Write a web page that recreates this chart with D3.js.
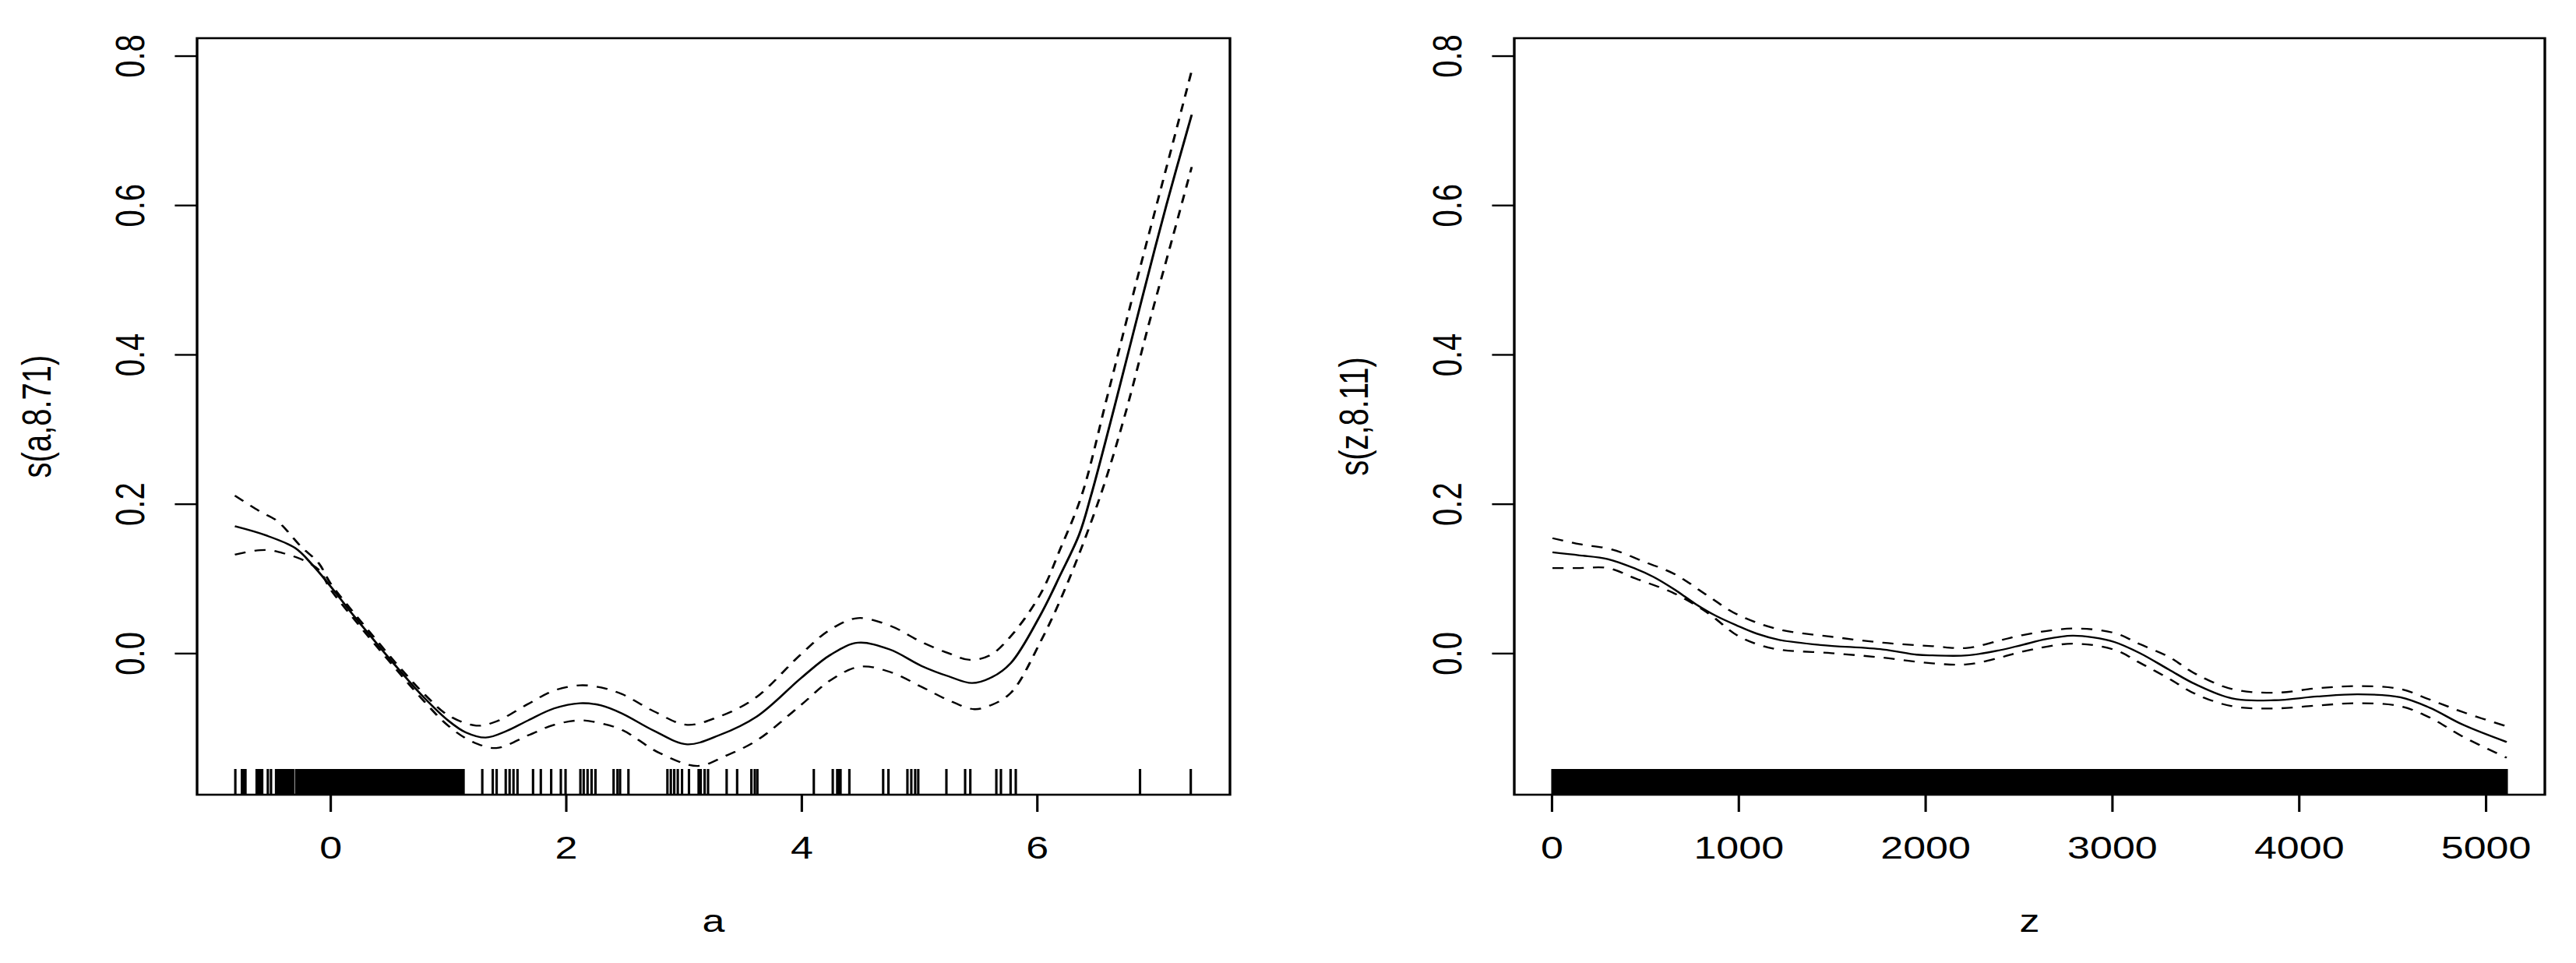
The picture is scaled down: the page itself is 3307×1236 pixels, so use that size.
<!DOCTYPE html>
<html>
<head>
<meta charset="utf-8">
<script src="https://cdn.jsdelivr.net/npm/d3@7"></script>
<style>
  body { margin: 0; background: #fff; }
  text { font-family: "Liberation Sans", Arial, sans-serif; fill: #000; }
</style>
</head>
<body>
<div id="canvas"></div>
<script>
// values
let yLim = [-0.152, 0.786];
let yTicks = [0, 0.2, 0.4, 0.6, 0.8];

// ---- left panel: s(a, 8.71)
let aExtent = [-0.806, 7.315];
let aTicks = [0, 2, 4, 6];
let aFit = [
  [-0.81, 0.170], [-0.55, 0.158], [-0.30, 0.141], [-0.15, 0.118], [0.00, 0.090],
  [0.20, 0.050], [0.40, 0.012], [0.60, -0.025], [0.80, -0.060], [1.00, -0.090],
  [1.15, -0.106], [1.32, -0.113], [1.50, -0.104], [1.68, -0.090], [1.90, -0.074],
  [2.12, -0.067], [2.30, -0.070], [2.48, -0.081], [2.75, -0.104], [3.03, -0.122],
  [3.30, -0.110], [3.62, -0.085], [4.00, -0.033], [4.25, -0.002], [4.48, 0.014],
  [4.75, 0.005], [5.02, -0.017], [5.25, -0.031], [5.45, -0.040], [5.62, -0.032],
  [5.78, -0.013], [6.03, 0.051], [6.20, 0.105], [6.36, 0.159], [6.46, 0.211],
  [6.70, 0.355], [6.89, 0.473], [7.10, 0.600], [7.315, 0.721]
];
let aUpper = [
  [-0.81, 0.211], [-0.60, 0.190], [-0.45, 0.177], [-0.25, 0.143], [-0.10, 0.121],
  [0.00, 0.094], [0.20, 0.054], [0.40, 0.016], [0.60, -0.021], [0.80, -0.055],
  [1.00, -0.083], [1.24, -0.097], [1.40, -0.092], [1.68, -0.068], [1.90, -0.050],
  [2.12, -0.043], [2.30, -0.046], [2.48, -0.055], [2.75, -0.078], [3.03, -0.096],
  [3.30, -0.085], [3.60, -0.061], [4.00, -0.001], [4.25, 0.032], [4.48, 0.047],
  [4.75, 0.037], [5.02, 0.015], [5.25, 0.000], [5.43, -0.009], [5.60, -0.003],
  [5.78, 0.023], [6.03, 0.079], [6.20, 0.140], [6.38, 0.211], [6.60, 0.345],
  [6.85, 0.500], [7.10, 0.650], [7.315, 0.780]
];
let aLower = [
  [-0.81, 0.132], [-0.65, 0.137], [-0.52, 0.138], [-0.38, 0.133], [-0.25, 0.126],
  [-0.10, 0.112], [0.00, 0.086], [0.20, 0.046], [0.40, 0.008], [0.60, -0.029],
  [0.80, -0.065], [1.00, -0.097], [1.20, -0.118], [1.41, -0.127], [1.68, -0.110],
  [1.90, -0.096], [2.12, -0.090], [2.30, -0.094], [2.48, -0.103], [2.80, -0.134],
  [3.12, -0.151], [3.35, -0.138], [3.62, -0.117], [4.00, -0.069], [4.25, -0.036],
  [4.50, -0.018], [4.75, -0.025], [5.02, -0.045], [5.25, -0.063], [5.47, -0.075],
  [5.62, -0.069], [5.78, -0.053], [6.03, 0.015], [6.25, 0.090], [6.54, 0.211],
  [6.75, 0.320], [6.95, 0.440], [7.15, 0.555], [7.315, 0.651]
];
let aRug = [
  -0.806, -0.75, -0.728, -0.53, -0.503, 1.291, 1.38, 1.413, 1.49, 1.523, 1.556, 1.59,
  1.722, 1.788, 1.876, 1.958, 1.998, 2.124, 2.152, 2.185, 2.219, 2.252, 2.406, 2.439,
  2.461, 2.532, 2.863, 2.892, 2.921, 2.951, 2.987, 3.046, 3.128, 3.146, 3.179, 3.208,
  3.366, 3.455, 3.576, 3.605, 3.627, 4.106, 4.267, 4.305, 4.316, 4.333, 4.408, 4.695,
  4.74, 4.901, 4.934, 4.967, 4.993, 5.232, 5.391, 5.435, 5.656, 5.695, 5.777, 5.821,
  6.876, 7.307
];
// stretches where the rug ticks merge into a solid bar
let aRugBlocks = [[-0.75, -0.72], [-0.625, -0.578], [-0.46, -0.315], [-0.29, 1.132]];

// ---- right panel: s(z, 8.11)
let zExtent = [5, 5113];
let zTicks = [0, 1000, 2000, 3000, 4000, 5000];
let zFit = [
  [5, 0.135], [150, 0.131], [301, 0.126], [450, 0.113], [547, 0.102], [660, 0.085],
  [770, 0.066], [880, 0.050], [993, 0.037], [1100, 0.026], [1216, 0.018], [1440, 0.011],
  [1774, 0.005], [1955, -0.002], [2038, -0.003], [2225, -0.003], [2400, 0.004],
  [2518, 0.011], [2650, 0.019], [2788, 0.0234], [2900, 0.021], [3013, 0.015],
  [3150, 0.000], [3305, -0.022], [3450, -0.042], [3643, -0.0606], [3868, -0.063],
  [4100, -0.058], [4318, -0.055], [4543, -0.059], [4700, -0.073], [4880, -0.096],
  [5113, -0.119]
];
let zUpper = [
  [5, 0.154], [150, 0.146], [321, 0.139], [500, 0.122], [658, 0.106], [830, 0.078],
  [993, 0.052], [1216, 0.032], [1500, 0.022], [1774, 0.014], [2038, 0.0094],
  [2225, 0.007], [2400, 0.017], [2518, 0.024], [2788, 0.033], [3013, 0.027],
  [3150, 0.012], [3305, -0.005], [3450, -0.028], [3643, -0.048], [3868, -0.053],
  [4100, -0.047], [4318, -0.044], [4543, -0.048], [4700, -0.062], [4880, -0.079],
  [5113, -0.098]
];
let zLower = [
  [5, 0.114], [150, 0.114], [301, 0.114], [450, 0.100], [658, 0.080], [830, 0.055],
  [993, 0.024], [1100, 0.012], [1216, 0.005], [1500, 0.000], [1774, -0.006],
  [2038, -0.0136], [2225, -0.015], [2400, -0.006], [2518, 0.002], [2788, 0.0127],
  [3013, 0.0045], [3150, -0.013], [3305, -0.034], [3450, -0.055], [3643, -0.071],
  [3868, -0.074], [4100, -0.070], [4318, -0.067], [4543, -0.071], [4700, -0.086],
  [4880, -0.112], [5113, -0.140]
];
let zRug = [];
let zRugBlocks = [[5, 5113]];

// ---- drawing
// the picture is stretched sideways, so draw in a narrower space and scale it
let SX = 1.3;
let W = 3307, H = 1236;
let plotTop = 49, plotBottom = 1020;
let rugTop = 987;

let svg = d3
  .select("#canvas")
  .append("svg")
  .attr("width", W)
  .attr("height", H)
  .style("background", "#fff");

let root = svg.append("g").attr("transform", `scale(${SX},1)`);

// R style 4% padding round the data range
let pad = (ext) => {
  let r = ext[1] - ext[0];
  return [ext[0] - 0.04 * r, ext[1] + 0.04 * r];
};

let y = d3.scaleLinear().domain(pad(yLim)).range([plotBottom, plotTop]);

let panels = [
  { left: 253, right: 1579, ext: aExtent, ticks: aTicks, fmt: d3.format("d"),
    fit: aFit, upper: aUpper, lower: aLower, rug: aRug, blocks: aRugBlocks,
    xlab: "a", ylab: "s(a,8.71)" },
  { left: 1944, right: 3267, ext: zExtent, ticks: zTicks, fmt: d3.format("d"),
    fit: zFit, upper: zUpper, lower: zLower, rug: zRug, blocks: zRugBlocks,
    xlab: "z", ylab: "s(z,8.11)" },
];

panels.forEach((p) => {
  let x = d3.scaleLinear().domain(pad(p.ext)).range([p.left / SX, p.right / SX]);
  let g = root.append("g");

  // rug
  g.selectAll(".rug")
    .data(p.rug)
    .join("line")
    .attr("x1", (d) => x(d))
    .attr("x2", (d) => x(d))
    .attr("y1", rugTop)
    .attr("y2", plotBottom)
    .attr("stroke", "#000")
    .attr("stroke-width", 2.4);
  g.selectAll(".rugblock")
    .data(p.blocks)
    .join("rect")
    .attr("x", (d) => x(d[0]) - 1.2)
    .attr("width", (d) => x(d[1]) - x(d[0]) + 2.4)
    .attr("y", rugTop)
    .attr("height", plotBottom - rugTop)
    .attr("fill", "#000");

  // curves
  let line = d3
    .line()
    .x((d) => x(d[0]))
    .y((d) => y(d[1]))
    .curve(d3.curveCatmullRom.alpha(0.5));

  g.append("path")
    .attr("d", line(p.fit))
    .attr("fill", "none")
    .attr("stroke", "#000")
    .attr("stroke-width", 2.3);
  [p.upper, p.lower].forEach((band) => {
    g.append("path")
      .attr("d", line(band))
      .attr("fill", "none")
      .attr("stroke", "#000")
      .attr("stroke-width", 2.3)
      .attr("stroke-dasharray", "11,9");
  });

  // frame
  g.append("rect")
    .attr("x", p.left / SX)
    .attr("y", plotTop)
    .attr("width", (p.right - p.left) / SX)
    .attr("height", plotBottom - plotTop)
    .attr("fill", "none")
    .attr("stroke", "#000")
    .attr("stroke-width", 2.6);

  // x axis
  let xAxis = g
    .append("g")
    .attr("transform", `translate(0,${plotBottom})`)
    .call(d3.axisBottom(x).tickValues(p.ticks).tickFormat(p.fmt).tickSize(22).tickPadding(32));
  xAxis.select(".domain").remove();
  xAxis.selectAll("line").attr("stroke", "#000").attr("stroke-width", 2.4);
  xAxis.selectAll("text")
    .attr("font-size", 40)
    .attr("font-family", '"Liberation Sans", Arial, sans-serif')
    .attr("fill", "#000");

  // y axis, labels turned like R does
  let yAxis = g
    .append("g")
    .attr("transform", `translate(${p.left / SX},0)`)
    .call(d3.axisLeft(y).tickValues(yTicks).tickSize(22).tickFormat(d3.format(".1f")));
  yAxis.select(".domain").remove();
  yAxis.selectAll("line").attr("stroke", "#000").attr("stroke-width", 2.4);
  yAxis.selectAll("text")
    .attr("x", null)
    .attr("dy", null)
    .attr("text-anchor", "middle")
    .attr("transform", `translate(${-68 / SX},0) rotate(-90)`)
    .attr("font-size", 40)
    .attr("font-family", '"Liberation Sans", Arial, sans-serif')
    .attr("fill", "#000");

  // titles
  g.append("text")
    .attr("x", (p.left + p.right) / 2 / SX)
    .attr("y", 1196)
    .attr("text-anchor", "middle")
    .attr("font-size", 40)
    .text(p.xlab);
  g.append("text")
    .attr("transform", `translate(${(p.left - 188) / SX},${(plotTop + plotBottom) / 2}) rotate(-90)`)
    .attr("text-anchor", "middle")
    .attr("font-size", 40)
    .text(p.ylab);
});
</script>
</body>
</html>
